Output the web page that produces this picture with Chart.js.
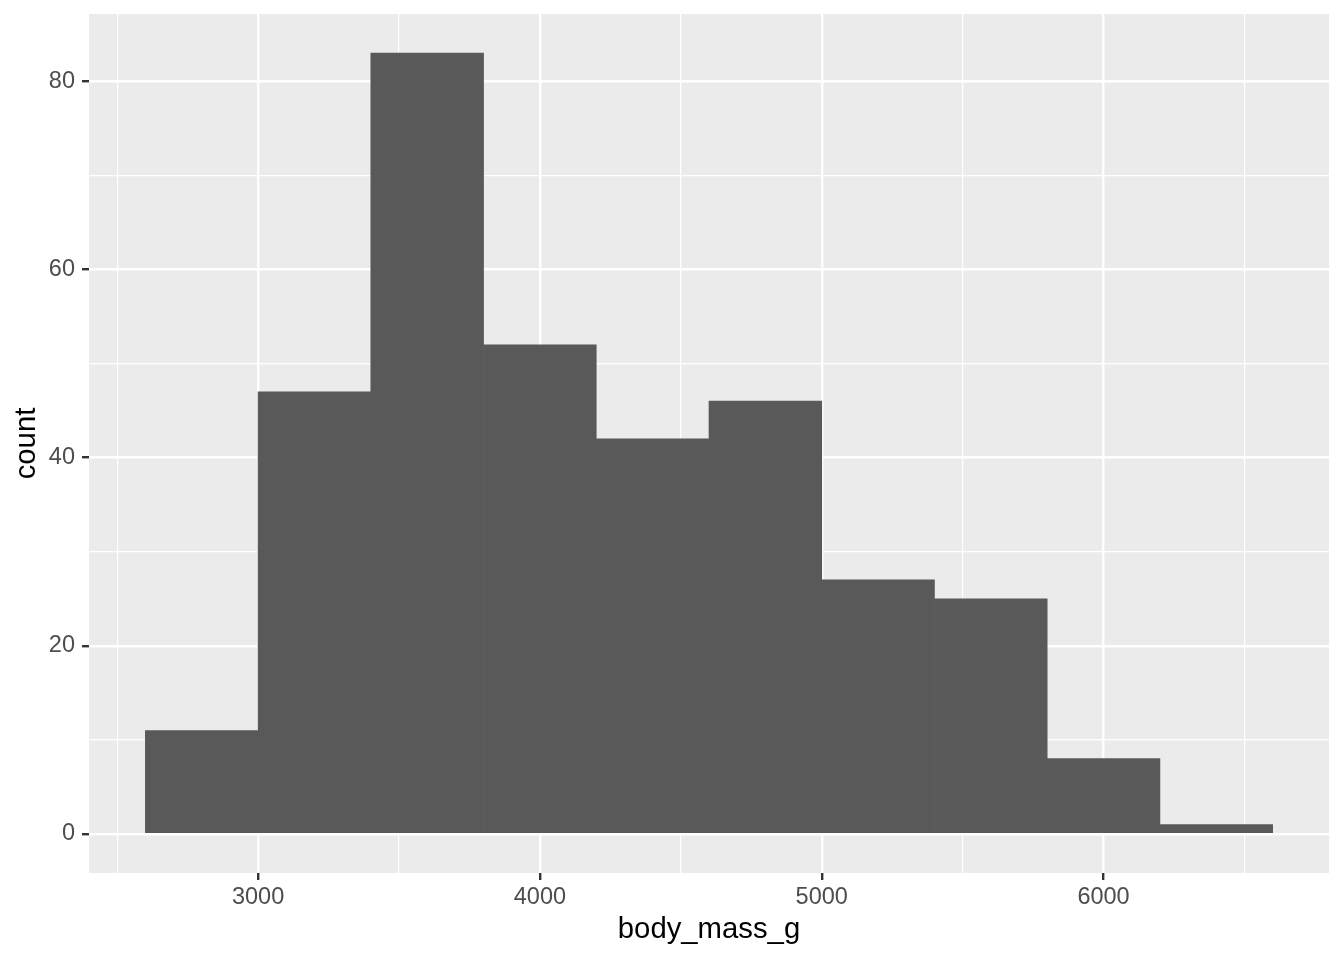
<!DOCTYPE html>
<html>
<head>
<meta charset="utf-8">
<script src="https://cdn.jsdelivr.net/npm/chart.js@4"></script>
<style>
  body { margin: 0; background: #fff; }
  #chart { display: block; }
</style>
</head>
<body>
<canvas id="chart" width="1344" height="960"></canvas>
<script>
// histogram of body_mass_g, binwidth 400
const binCenters = [2800, 3200, 3600, 4000, 4400, 4800, 5200, 5600, 6000, 6400];
const counts = [11, 47, 83, 52, 42, 46, 27, 25, 8, 1];
const xTickLabels = [3000, 4000, 5000, 6000];
const xMinorBreaks = [2500, 3500, 4500, 5500, 6500];
const yTickLabels = [0, 20, 40, 60, 80];
const yMinorBreaks = [10, 30, 50, 70];

const panelBg = {
    id: 'panelBg',
    beforeDraw(chart) {
        const a = chart.chartArea;
        const ctx = chart.ctx;
        ctx.save();
        ctx.fillStyle = '#EBEBEB';
        ctx.fillRect(a.left, a.top, a.right - a.left, a.bottom - a.top);
        ctx.restore();
    }
};

const isMajorX = v => xTickLabels.includes(v);
const isMajorY = v => yTickLabels.includes(v);
const toTicks = (major, minor) => major.concat(minor).sort((a, b) => a - b).map(v => ({value: v}));

const font = size => ({ family: 'Liberation Sans, Arial, sans-serif', size: size });

new Chart(document.getElementById('chart'), {
    type: 'bar',
    data: {
        datasets: [{
            data: binCenters.map((x, i) => ({x: x, y: counts[i]})),
            backgroundColor: '#595959',
            borderWidth: 0,
            barPercentage: 1,
            categoryPercentage: 1
        }]
    },
    options: {
        responsive: false,
        animation: false,
        devicePixelRatio: 1,
        layout: { padding: { left: 0, top: 14, right: 15, bottom: 0 } },
        plugins: { legend: { display: false }, tooltip: { enabled: false } },
        scales: {
            x: {
                type: 'linear',
                min: 2400,
                max: 6800,
                offset: false,
                border: { display: false },
                grid: {
                    offset: false,
                    color: '#FFFFFF',
                    lineWidth: c => isMajorX(c.tick.value) ? 2.4 : 1.2,
                    drawTicks: true,
                    tickLength: 7,
                    tickColor: c => isMajorX(c.tick.value) ? '#333333' : 'rgba(0,0,0,0)',
                    tickWidth: 2.4
                },
                ticks: {
                    maxRotation: 0,
                    autoSkip: false,
                    padding: 3,
                    color: '#4D4D4D',
                    font: font(23.5),
                    callback: v => isMajorX(v) ? String(v) : ''
                },
                title: {
                    display: true,
                    text: 'body_mass_g',
                    color: '#000000',
                    font: font(29.3),
                    padding: { top: 0, bottom: 13 }
                },
                afterBuildTicks: scale => { scale.ticks = toTicks(xTickLabels, xMinorBreaks); },
                afterFit: scale => {
                    scale.height = 87;
                    scale.paddingLeft = 0;
                    scale.paddingRight = 0;
                }
            },
            y: {
                min: -4.15,
                max: 87.15,
                border: { display: false },
                grid: {
                    color: '#FFFFFF',
                    lineWidth: c => isMajorY(c.tick.value) ? 2.4 : 1.2,
                    drawTicks: true,
                    tickLength: 7,
                    tickColor: c => isMajorY(c.tick.value) ? '#333333' : 'rgba(0,0,0,0)',
                    tickWidth: 2.4
                },
                ticks: {
                    autoSkip: false,
                    padding: 7,
                    color: '#4D4D4D',
                    font: font(23.5),
                    callback: v => isMajorY(v) ? String(v) : ''
                },
                title: {
                    display: true,
                    text: 'count',
                    color: '#000000',
                    font: font(29.3),
                    padding: { top: 9, bottom: 0 }
                },
                afterBuildTicks: scale => { scale.ticks = toTicks(yTickLabels, yMinorBreaks); },
                afterFit: scale => {
                    scale.width = 89;
                    scale.paddingTop = 0;
                    scale.paddingBottom = 0;
                }
            }
        }
    },
    plugins: [panelBg]
});
</script>
</body>
</html>
